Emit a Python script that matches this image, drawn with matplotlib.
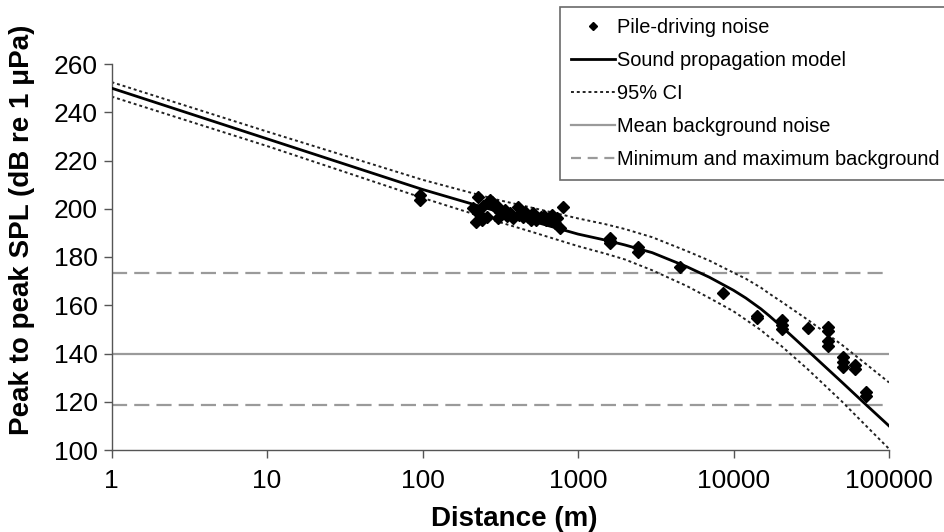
import matplotlib
matplotlib.use("Agg")
import matplotlib.pyplot as plt
from matplotlib.lines import Line2D

plt.rcParams['font.family'] = ['Liberation Sans', 'DejaVu Sans']

# Measured pile-driving noise
dist_pts = [96, 96, 212, 222, 227, 227, 240, 245, 258, 270, 278, 293, 300, 307, 315,
            338, 350, 364, 380, 412, 420, 440, 455, 475, 500, 510, 540, 580, 600,
            625, 650, 680, 710, 730, 765, 800,
            1600, 1600, 1610, 2440, 2440, 4530, 8550, 14150, 14150,
            20500, 20500, 20500, 30100, 40800, 40800, 40800, 40800,
            50700, 50700, 50700, 60300, 60300, 71100, 71100]
spl_pts = [205.5, 203.8, 200.3, 194.5, 204.9, 198.2, 195.3, 201.0, 196.6, 203.5, 202.8, 200.7, 201.0, 196.2, 198.7,
           199.5, 197.0, 198.2, 196.2, 200.7, 197.4, 196.5, 198.7, 196.6, 195.5, 198.2, 195.3, 196.6, 197.0,
           195.3, 196.0, 197.4, 194.1, 196.2, 192.0, 200.7,
           188.0, 186.5, 185.8, 184.1, 182.0, 175.9, 165.1, 155.5, 154.8,
           154.0, 152.0, 150.0, 150.6, 151.0, 149.3, 145.2, 143.2,
           138.5, 136.5, 134.6, 135.2, 133.4, 124.2, 122.2]

# Sound propagation model and 95% CI
model_x = [1, 10, 100, 300, 500, 1000, 1500, 2000, 3000, 5000, 7000, 10000, 12000, 15000,
           17000, 20000, 25000, 30000, 50000, 70000, 100000]
model_y = [250, 229, 208, 199, 195, 189.5, 187.0, 185.0, 181.8, 176.0, 171.6, 166.2, 163.0, 158.5,
           155.6, 151.6, 145.9, 141.2, 128.0, 119.2, 110]
ci_upper = [252.5, 232, 212, 203.8, 200.5, 196, 193.6, 191.6, 188.2, 182.5, 178.5, 173.5, 171, 167.3,
            164.8, 161.8, 157.5, 154, 143.5, 136, 128]
ci_lower = [246.5, 226, 204.5, 194.8, 190.5, 184.5, 181.4, 179, 174.5, 168, 163, 157.5, 154, 149.7,
            146.8, 143.5, 138, 133.5, 120, 110.5, 100.5]

mean_bg = 140
min_bg = 118.7
max_bg = 173.4

xticks = [1, 10, 100, 1000, 10000, 100000]
xticklabels = ['1', '10', '100', '1000', '10000', '100000']
yticks = [100, 120, 140, 160, 180, 200, 220, 240, 260]

fig = plt.figure(figsize=(9.44, 5.32), dpi=100)
ax = fig.add_axes([111.5/944, 1 - 450/532, (889 - 111.5)/944, (450 - 64)/532])

ax.axhline(mean_bg, color='#9a9a9a', lw=1.6, zorder=1)
ax.axhline(max_bg, color='#9a9a9a', lw=1.6, dashes=(6.8, 3.2), zorder=1)
ax.axhline(min_bg, color='#9a9a9a', lw=1.6, dashes=(6.8, 3.2), zorder=1)

ax.plot(model_x, ci_upper, color='#222222', lw=1.4, ls=(0, (1.5, 1.5)), zorder=2)
ax.plot(model_x, ci_lower, color='#222222', lw=1.4, ls=(0, (1.5, 1.5)), zorder=2)
ax.plot(model_x, model_y, color='black', lw=2.0, zorder=3)
ax.plot(dist_pts, spl_pts, ls='none', marker='D', ms=6.5, color='black', zorder=4)

ax.set_xscale('log')
ax.set_xlim(1, 100000)
ax.set_ylim(100, 260)
ax.set_xticks(xticks)
ax.set_xticklabels(xticklabels)
ax.xaxis.set_minor_locator(matplotlib.ticker.NullLocator())
ax.set_yticks(yticks)

for s in ['top', 'right']:
    ax.spines[s].set_visible(False)
for s in ['left', 'bottom']:
    ax.spines[s].set_color('#555555')
    ax.spines[s].set_linewidth(1.0)
ax.tick_params(axis='both', direction='out', length=6, width=1.0, color='#555555',
               labelsize=19, labelcolor='black', pad=4)
ax.tick_params(axis='x', pad=8)

ax.set_xlabel('Distance (m)', fontsize=20, fontweight='bold')
ax.xaxis.set_label_coords((514 - 111.5) / 777.5, -(519 - 450) / 386, transform=ax.transAxes)
ax.xaxis.label.set_va('center')
ax.set_ylabel('Peak to peak SPL (dB re 1 μPa)', fontsize=20, fontweight='bold')
ax.yaxis.set_label_coords(-(111.5 - 22) / 777.5, (450 - 230) / 386, transform=ax.transAxes)
ax.yaxis.label.set_va('center')

handles = [
    Line2D([], [], ls='none', marker='D', ms=4, color='black'),
    Line2D([], [], color='black', lw=2.0),
    Line2D([], [], color='#222222', lw=1.4, ls=(0, (1.5, 1.5))),
    Line2D([], [], color='#9a9a9a', lw=1.6),
    Line2D([], [], color='#9a9a9a', lw=1.6, dashes=(4.5, 3)),
]
labels = ['Pile-driving noise', 'Sound propagation model', '95% CI',
          'Mean background noise', 'Minimum and maximum background']
leg = fig.legend(handles, labels, loc='upper left', bbox_to_anchor=(560/944, 1 - 7/532),
                 fontsize=14.4, frameon=True, fancybox=False, shadow=False,
                 handlelength=2.2, handletextpad=0.1, labelspacing=0.70,
                 borderpad=0.55, borderaxespad=0)
leg.get_frame().set_edgecolor('#444444')
leg.get_frame().set_linewidth(1.2)

fig.savefig('out.png', dpi=100)
